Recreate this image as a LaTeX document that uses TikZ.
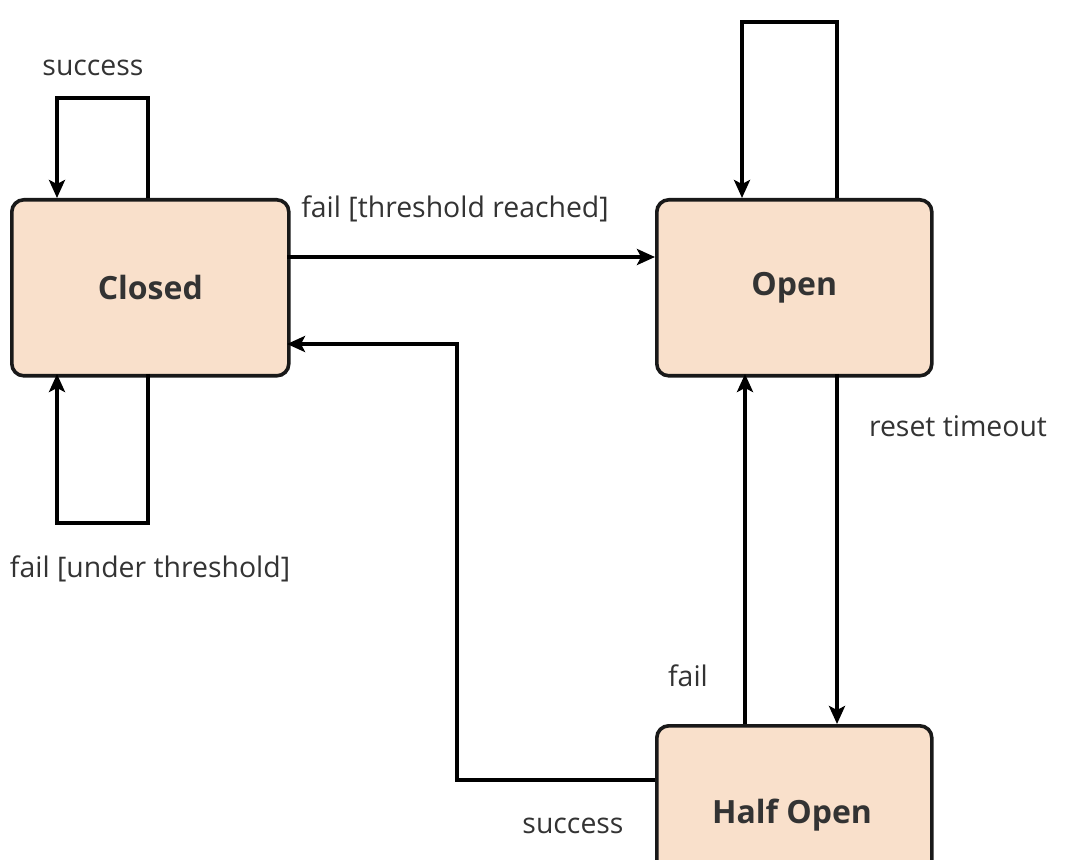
\documentclass[tikz,border=0pt]{standalone}
\usepackage{fontspec}
\setmainfont{Open Sans}
\usetikzlibrary{arrows.meta}
\definecolor{boxfill}{HTML}{F9E0CB}
\definecolor{txt}{HTML}{333333}
\begin{document}
\begin{tikzpicture}[x=0.5pt,y=-0.5pt,
  state/.style={draw=black!90,line width=1.8pt,fill=boxfill,rounded corners=6pt,font=\fontsize{16}{18}\selectfont\bfseries,text=txt,anchor=north west,inner sep=0pt},
  lbl/.style={font=\fontsize{14.2}{16}\selectfont,text=txt},
  arr/.style={line width=1.7pt,-{Stealth[length=9pt,width=8pt,inset=2pt]}}]
\useasboundingbox (0,0) rectangle (1080,860);
\clip (0,0) rectangle (1080,860);
\node[state,minimum width=138.5pt,minimum height=88pt] (closed) at (10,198) {Closed};
\node[state,minimum width=137.5pt,minimum height=88pt] (open) at (655,198) {Open};
\node[state,minimum width=137.5pt,minimum height=88pt] (half) at (655,724) {};
\node[font=\fontsize{16}{18}\selectfont\bfseries,text=txt] (halft) at (792,815) {Half Open};
\coordinate (c1) at (148,98); \coordinate (c2) at (57,98);
\draw[arr] (148,198) -- (c1) -- (c2) -- (57,198);
\coordinate (c3) at (148,523); \coordinate (c4) at (57,523);
\draw[arr] (148,374) -- (c3) -- (c4) -- (57,374);
\draw[arr] (287,257) -- (655,257);
\coordinate (o1) at (837,22); \coordinate (o2) at (742,22);
\draw[arr] (837,198) -- (o1) -- (o2) -- (742,198);
\draw[arr] (837,374) -- (837,724);
\draw[arr] (745,724) -- (745,374);
\coordinate (h1) at (457,780); \coordinate (h2) at (457,344);
\draw[arr] (655,780) -- (h1) -- (h2) -- (287,344);
\node[lbl] (l1) at (93,68) {success};
\node[lbl] (l2) at (150,569) {fail [under threshold]};
\node[lbl] (l3) at (455,209) {fail [threshold reached]};
\node[lbl] (l4) at (958,426) {reset timeout};
\node[lbl] (l5) at (688,676) {fail};
\node[lbl] (l6) at (573,826) {success};
\end{tikzpicture}
\end{document}
